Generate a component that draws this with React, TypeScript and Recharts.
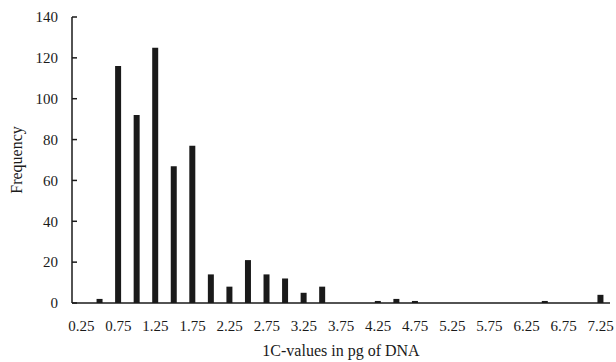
import { BarChart, Bar, XAxis, YAxis } from "recharts";

// 1C-value bins (pg of DNA), 0.25 steps
const bins = [
  "0.25", "0.5", "0.75", "1", "1.25", "1.5", "1.75", "2", "2.25", "2.5",
  "2.75", "3", "3.25", "3.5", "3.75", "4", "4.25", "4.5", "4.75", "5",
  "5.25", "5.5", "5.75", "6", "6.25", "6.5", "6.75", "7", "7.25",
];
const frequency = [
  0, 2, 116, 92, 125, 67, 77, 14, 8, 21,
  14, 12, 5, 8, 0, 0, 1, 2, 1, 0,
  0, 0, 0, 0, 0, 1, 0, 0, 4,
];
const yTicks = [0, 20, 40, 60, 80, 100, 120, 140];

const data = bins.map((b, i) => ({ bin: b, freq: frequency[i] }));

const FONT = "'Liberation Serif', 'Times New Roman', serif";
const INK = "#1a1a1a";

const fmtBin = (v: string) => Number(v).toFixed(2);

export default function App() {
  return (
    <div style={{ width: 616, height: 362, background: "#fff" }}>
      <style>{`body{margin:0}`}</style>
      <BarChart
        width={616}
        height={362}
        data={data}
        margin={{ top: 17, right: 6, bottom: 0, left: 0 }}
        barCategoryGap={0}
      >
        <XAxis
          dataKey="bin"
          interval={1}
          tickFormatter={fmtBin}
          tickLine={false}
          tickSize={0}
          tickMargin={17}
          height={59}
          axisLine={{ stroke: INK, strokeWidth: 1.5 }}
          tick={{ fill: INK, fontSize: 15, fontFamily: FONT }}
          label={{
            value: "1C-values in pg of DNA",
            position: "insideBottom",
            offset: 6,
            fill: INK,
            fontSize: 16,
            fontFamily: FONT,
          }}
        />
        <YAxis
          domain={[0, 140]}
          ticks={yTicks}
          width={72}
          tickSize={-5}
          tickMargin={19}
          axisLine={{ stroke: INK, strokeWidth: 1.5 }}
          tickLine={{ stroke: INK, strokeWidth: 1.5 }}
          tick={{ fill: INK, fontSize: 15, fontFamily: FONT }}
          label={{
            value: "Frequency",
            angle: -90,
            position: "insideLeft",
            offset: 16,
            fill: INK,
            fontSize: 16,
            fontFamily: FONT,
            style: { textAnchor: "middle" },
          }}
        />
        <Bar dataKey="freq" fill={INK} barSize={6} isAnimationActive={false} />
      </BarChart>
    </div>
  );
}
